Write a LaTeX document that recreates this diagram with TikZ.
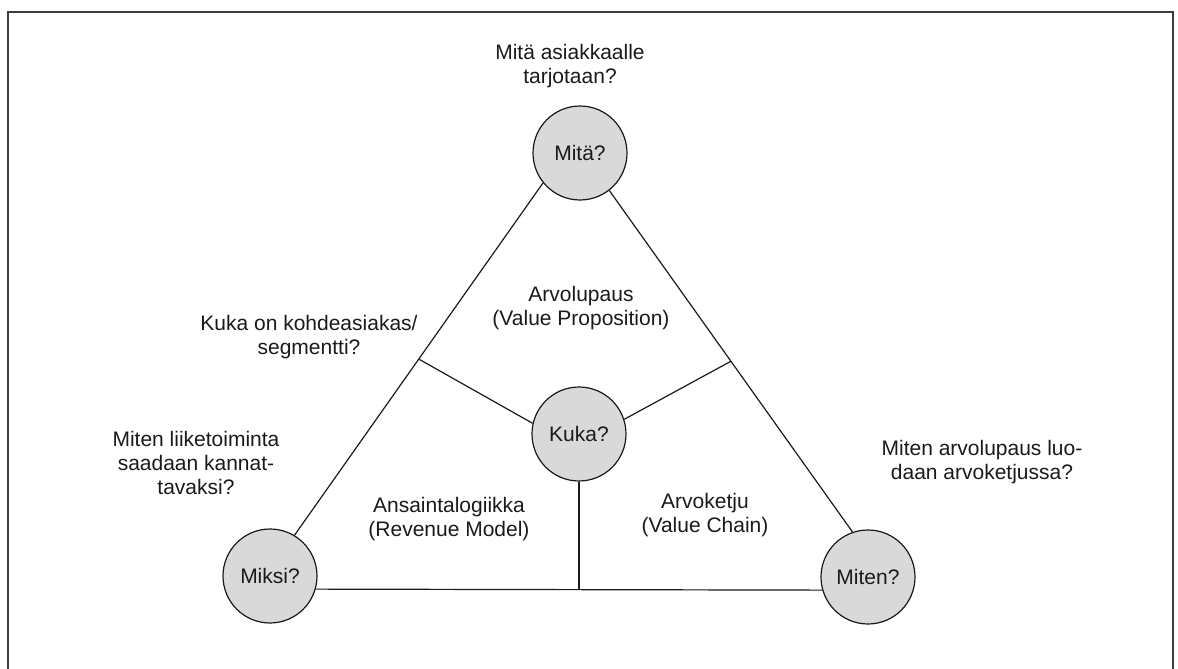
\documentclass[tikz,border=0pt]{standalone}
\usepackage{fontspec}
\setmainfont{Liberation Sans}
\usetikzlibrary{calc}
\definecolor{bubble}{HTML}{D9D9D9}
\definecolor{ink}{HTML}{1A1A1A}
\tikzset{
  every node/.style={font=\fontsize{21}{24}\selectfont, text=ink},
  bubble/.style={circle, draw=ink, line width=1.2pt, fill=bubble,
    minimum size=94pt, inner sep=0pt},
  note/.style={align=center, anchor=base, inner sep=0pt},
  edge/.style={draw=ink, line width=1.2pt},
}
\begin{document}
\begin{tikzpicture}[x=1pt, y=-1pt]
  \useasboundingbox (0,0) rectangle (1178,669);
  % frame (open at the bottom)
  \draw[draw=ink!85, line width=1.4pt] (8,680) -- (8,12) -- (1173,12) -- (1173,680);

  % the four questions
  \node[bubble] (mita)  at (580,153) {Mitä?};
  \node[bubble] (kuka)  at (579,434) {Kuka?};
  \node[bubble] (miksi) at (270,576) {Miksi?};
  \node[bubble] (miten) at (868,577) {Miten?};

  % triangle sides
  \coordinate (lt) at (mita.219);
  \coordinate (lb) at (miksi.59);
  \coordinate (rt) at (mita.308);
  \coordinate (rb) at (miten.109);
  \draw[edge] (lt) -- (lb);
  \draw[edge] (rt) -- (rb);
  \draw[edge] (miksi.-16) -- (miten.196);

  % spokes from the centre
  \coordinate (jl) at ($(lt)!0.5!(lb)$);
  \coordinate (jr) at ($(rt)!0.5!(rb)$);
  \coordinate (jb) at (kuka.south |- miksi.-16);
  \draw[edge] (jl) -- (kuka.167);
  \draw[edge] (jr) -- (kuka.18);
  \draw[edge] (kuka.south) -- (jb);

  % labels (anchored at the baseline of their last line)
  \node[note] (q1) at (570,83)  {Mitä asiakkaalle\\tarjotaan?};
  \node[note] (q2) at (309,354) {Kuka on kohdeasiakas/\\segmentti?};
  \node[note] (q3) at (196,494) {Miten liiketoiminta\\saadaan kannat-\\tavaksi?};
  \node[note] (q4) at (982,479) {Miten arvolupaus luo-\\daan arvoketjussa?};
  \node[note] (a1) at (581,325) {Arvolupaus\\(Value Proposition)};
  \node[note] (a2) at (449,536) {Ansaintalogiikka\\(Revenue Model)};
  \node[note] (a3) at (705,532) {Arvoketju\\(Value Chain)};
\end{tikzpicture}
\end{document}
